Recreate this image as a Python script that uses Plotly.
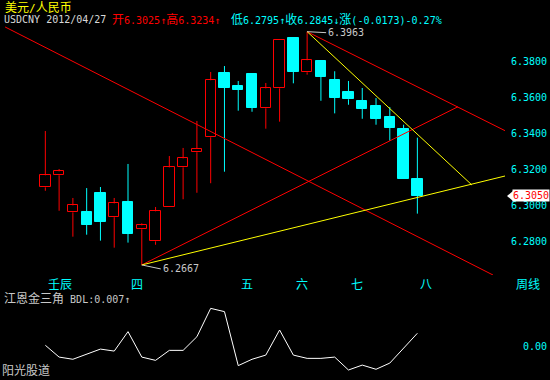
import plotly.graph_objects as go

# ---------------- data ----------------
opens = [6.3098, 6.3165, 6.2959, 6.2961, 6.3067, 6.2932, 6.3017, 6.2865, 6.2798, 6.2987,
         6.3209, 6.3293, 6.3376, 6.3733, 6.3661, 6.3728, 6.3537, 6.3648, 6.3928, 6.3737,
         6.3798, 6.3693, 6.3627, 6.3578, 6.3550, 6.3489, 6.3424, 6.3146]
highs = [6.3411, 6.3200, 6.3039, 6.3094, 6.3100, 6.3039, 6.3228, 6.2898, 6.2989, 6.3272,
         6.3317, 6.3467, 6.3739, 6.3772, 6.3689, 6.3733, 6.3678, 6.3915, 6.3928, 6.3963,
         6.3804, 6.3743, 6.3689, 6.3650, 6.3594, 6.3544, 6.3446, 6.3374]
lows = [6.3079, 6.2968, 6.2824, 6.2835, 6.2802, 6.2763, 6.2791, 6.2667, 6.2779, 6.2987,
        6.3032, 6.3068, 6.3121, 6.3185, 6.3524, 6.3518, 6.3424, 6.3463, 6.3676, 6.3724,
        6.3579, 6.3509, 6.3557, 6.3479, 6.3446, 6.3357, 6.3143, 6.2952]
closes = [6.3165, 6.3187, 6.2998, 6.2891, 6.2907, 6.3009, 6.2841, 6.2887, 6.2965, 6.3209,
          6.3259, 6.3311, 6.3693, 6.3652, 6.3641, 6.3541, 6.3648, 6.3915, 6.3741, 6.3804,
          6.3713, 6.3596, 6.3587, 6.3535, 6.3479, 6.3429, 6.3143, 6.3050]

bdl = [0.0004, -0.0061, -0.0073, -0.0044, -0.0017, -0.0028, 0.0079, -0.0061, -0.0079, -0.0024,
       -0.0024, 0.0051, 0.0207, 0.0189, -0.0108, -0.0073, -0.0050, 0.0088, -0.0050, -0.0068,
       -0.0068, -0.0061, -0.0132, -0.0105, -0.0128, -0.0094, -0.0013, 0.0070]

month_idx = [0, 6, 14, 18, 22, 27]
month_labels = ["壬辰", "四", "五", "六", "七", "八"]

price_ticks = [6.28, 6.30, 6.32, 6.34, 6.36, 6.38]
last_price = 6.3050
low_idx, low_price = 7, 6.2667
high_idx, high_price = 19, 6.3963

# Gann-triangle lines: (x0, y0, x1, y1, colour)
trend_lines = [
    (-2.92, 6.3989, 32.49, 6.2611, "#ff0000"),
    (low_idx, low_price, 29.95, 6.3546, "#ff0000"),
    (high_idx, high_price, 33.41, 6.3411, "#ff0000"),
    (low_idx, low_price, 33.41, 6.3162, "#ffff00"),
    (high_idx, high_price, 30.96, 6.3111, "#ffff00"),
]

RED = "#ff0000"
CYAN = "#00ffff"
FONT = "DejaVu Sans Mono, Liberation Mono, Noto Sans CJK SC"

W, H = 550, 380
PLOT_W = 505


def py(p):  # pixel y -> paper y
    return 1 - p / H


def px(p):  # pixel x -> paper x
    return p / PLOT_W


def cjk(s, size=12):
    out = ""
    for ch in s:
        if ord(ch) > 0x2E80:
            out += '<span style="font-size:%dpx">%s</span>' % (size, ch)
        else:
            out += ch
    return out


idx = list(range(len(opens)))
fig = go.Figure()

up = [i for i in idx if closes[i] >= opens[i]]
dn = [i for i in idx if closes[i] < opens[i]]

# bodies
fig.add_trace(go.Bar(
    x=up, base=[min(opens[i], closes[i]) for i in up],
    y=[abs(closes[i] - opens[i]) for i in up], width=0.75,
    marker=dict(color="#000000", line=dict(color=RED, width=1)),
    xaxis="x", yaxis="y", hoverinfo="skip", showlegend=False))
fig.add_trace(go.Bar(
    x=dn, base=[min(opens[i], closes[i]) for i in dn],
    y=[abs(closes[i] - opens[i]) for i in dn], width=0.75,
    marker=dict(color=CYAN, line=dict(color=CYAN, width=1)),
    xaxis="x", yaxis="y", hoverinfo="skip", showlegend=False))


def wicks(ids):
    xs, ys = [], []
    for i in ids:
        top = max(opens[i], closes[i])
        bot = min(opens[i], closes[i])
        if highs[i] > top:
            xs += [i, i, None]
            ys += [highs[i], top, None]
        if lows[i] < bot:
            xs += [i, i, None]
            ys += [bot, lows[i], None]
    return xs, ys


for ids, col in ((up, RED), (dn, CYAN)):
    xs, ys = wicks(ids)
    fig.add_trace(go.Scatter(x=xs, y=ys, mode="lines", line=dict(color=col, width=1),
                             xaxis="x", yaxis="y", hoverinfo="skip", showlegend=False))

# trend lines
for x0, y0, x1, y1, col in trend_lines:
    fig.add_trace(go.Scatter(x=[x0, x1], y=[y0, y1], mode="lines",
                             line=dict(color=col, width=1),
                             xaxis="x", yaxis="y", hoverinfo="skip", showlegend=False))

# indicator
fig.add_trace(go.Scatter(x=idx, y=bdl, mode="lines", line=dict(color="#ffffff", width=1),
                         xaxis="x2", yaxis="y2", hoverinfo="skip", showlegend=False))

ann = []
# header
ann.append(dict(xref="paper", yref="paper", x=px(3), y=py(8), xanchor="left", yanchor="middle",
                text=cjk("美元/人民币"), showarrow=False,
                font=dict(family=FONT, size=11, color="#ffff00")))
ann.append(dict(xref="paper", yref="paper", x=px(2), y=py(19), xanchor="left", yanchor="middle",
                text="USDCNY 2012/04/27", showarrow=False,
                font=dict(family=FONT, size=10, color="#d8d8d8")))
ann.append(dict(xref="paper", yref="paper", x=px(110), y=py(19), xanchor="left", yanchor="middle",
                text=cjk("开6.3025↑高6.3234↑"), showarrow=False,
                font=dict(family=FONT, size=10, color=RED)))
ann.append(dict(xref="paper", yref="paper", x=px(229), y=py(19), xanchor="left", yanchor="middle",
                text=cjk("低6.2795↑收6.2845↓涨(-0.0173)-0.27%"), showarrow=False,
                font=dict(family=FONT, size=10, color=CYAN)))
# high/low labels
ann.append(dict(xref="x", yref="y", x=high_idx, y=high_price, text="%.4f" % high_price,
                showarrow=True, arrowhead=0, arrowwidth=1, arrowcolor="#c8c8c8",
                ax=19, ay=1, xanchor="left", yanchor="middle", standoff=0,
                font=dict(family=FONT, size=10, color="#c8c8c8")))
ann.append(dict(xref="x", yref="y", x=low_idx, y=low_price, text="%.4f" % low_price,
                showarrow=True, arrowhead=0, arrowwidth=1, arrowcolor="#c8c8c8",
                ax=19, ay=4, xanchor="left", yanchor="middle", standoff=0,
                font=dict(family=FONT, size=10, color="#c8c8c8")))
# month labels
for i, lab in zip(month_idx, month_labels):
    ann.append(dict(xref="x", yref="paper", x=i, y=py(285), xanchor="left", yanchor="middle",
                    xshift=1, text=lab, showarrow=False,
                    font=dict(family=FONT, size=12, color=CYAN)))
ann.append(dict(xref="paper", yref="paper", x=px(514), y=py(285), xanchor="left", yanchor="middle",
                text="周线", showarrow=False, font=dict(family=FONT, size=12, color=CYAN)))
# indicator titles
ann.append(dict(xref="paper", yref="paper", x=px(2), y=py(298), xanchor="left", yanchor="middle",
                text=cjk("江恩金三角") + " BDL:%.3f↑" % bdl[-1], showarrow=False,
                font=dict(family=FONT, size=10, color="#c8c8c8")))
ann.append(dict(xref="paper", yref="paper", x=px(0), y=py(371), xanchor="left", yanchor="middle",
                text="阳光股道", showarrow=False,
                font=dict(family=FONT, size=12, color="#c8c8c8")))
# last price marker
ann.append(dict(xref="paper", yref="y", x=px(512), y=last_price, xanchor="left", yanchor="middle",
                text="%.4f" % last_price, showarrow=False, bgcolor="#ffffff", borderpad=0,
                font=dict(family=FONT, size=10, color=RED)))

mp = 205 - (last_price - 6.30) * 1800
shapes = [dict(type="path", xref="paper", yref="paper",
               path="M %f %f L %f %f L %f %f Z" % (px(507), py(mp), px(513), py(mp - 5), px(513), py(mp + 5)),
               fillcolor="#ffffff", line=dict(width=0))]

fig.update_layout(
    width=W, height=H,
    paper_bgcolor="#000000", plot_bgcolor="#000000",
    margin=dict(l=0, r=W - PLOT_W, t=0, b=0),
    barmode="overlay", bargap=0,
    showlegend=False,
    annotations=ann, shapes=shapes,
    xaxis=dict(domain=[0, 1], range=[-3.29, 33.36], visible=False, anchor="y"),
    xaxis2=dict(domain=[0, 1], range=[-3.29, 33.36], visible=False, anchor="y2", matches="x"),
    yaxis=dict(domain=[py(275), py(20)], range=[6.30 - 70 / 1800, 6.30 + 185 / 1800],
               side="right", anchor="x", tickvals=price_ticks,
               ticktext=["%.4f" % t for t in price_ticks],
               tickfont=dict(family=FONT, size=10, color=CYAN),
               showgrid=False, zeroline=False, showline=False, ticks="", ticklabelstandoff=5),
    yaxis2=dict(domain=[0, py(300)], range=[-34 * 0.00055, 46 * 0.00055],
                side="right", anchor="x2", tickvals=[0], ticktext=["0.00"],
                tickfont=dict(family=FONT, size=10, color=CYAN),
                showgrid=False, zeroline=False, showline=False, ticks="", ticklabelstandoff=17),
)

fig.write_html("out.html", config={"displayModeBar": False},
               post_script="document.body.style.margin='0';document.body.style.background='#000';")
